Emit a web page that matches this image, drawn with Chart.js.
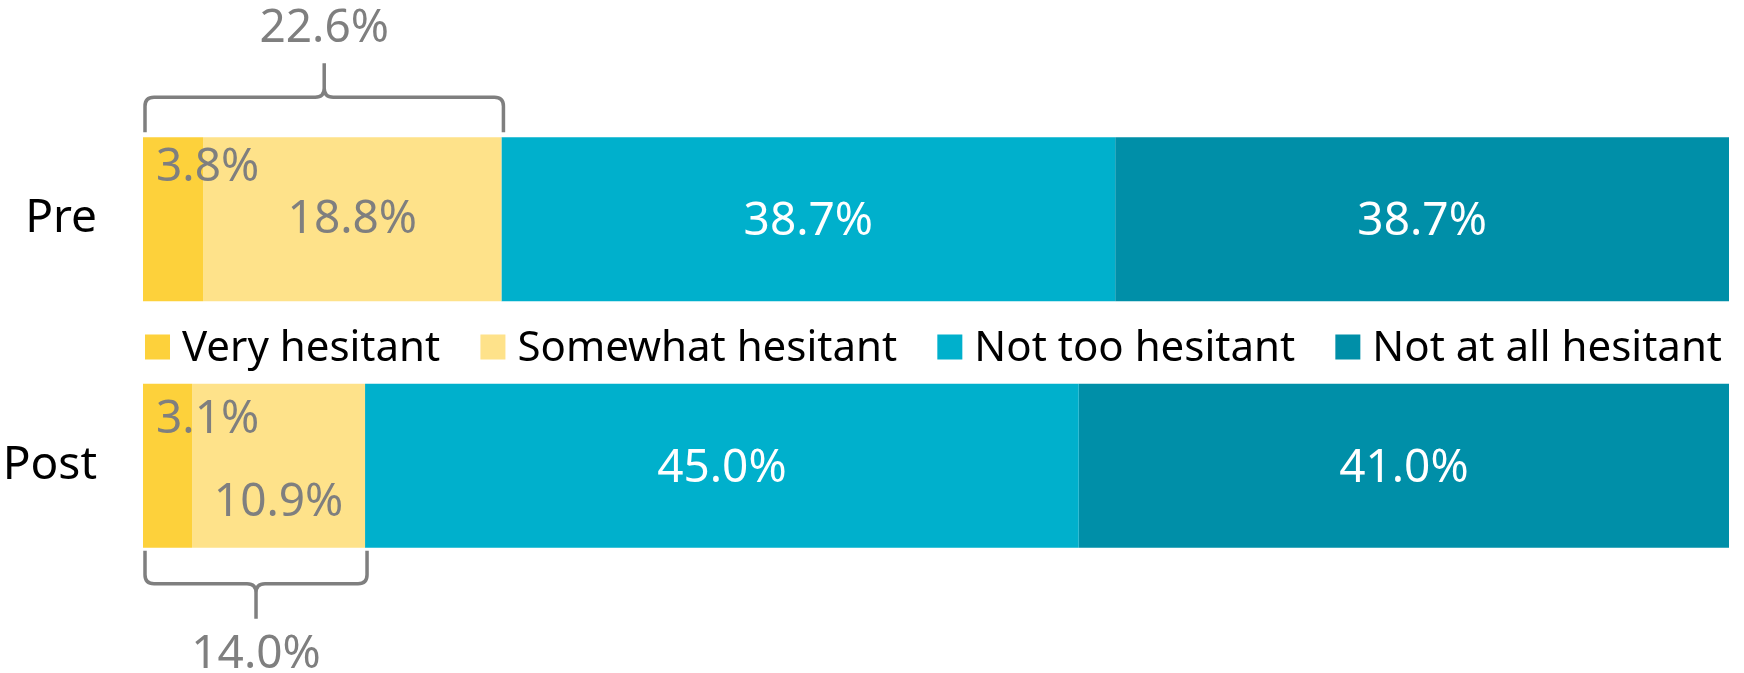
<!DOCTYPE html>
<html>
<head>
<meta charset="utf-8">
<script src="https://cdn.jsdelivr.net/npm/chart.js@4.4.1/dist/chart.umd.min.js"></script>
<style>
  html, body { margin: 0; padding: 0; background: #fff; }
  #wrap { width: 1744px; height: 673px; }
</style>
</head>
<body>
<div id="wrap"><canvas id="chart"></canvas></div>
<script>
// Data
const categories = ['Pre', 'Post'];
const seriesNames = ['Very hesitant', 'Somewhat hesitant', 'Not too hesitant', 'Not at all hesitant'];
const veryHesitant = [3.8, 3.1];
const somewhatHesitant = [18.8, 10.9];
const notTooHesitant = [38.7, 45.0];
const notAtAllHesitant = [38.7, 41.0];
const hesitantTotals = [22.6, 14.0];

const COLORS = ['#fdd13b', '#fee28a', '#00b0cc', '#008fa8'];
const LABEL_COLORS = ['#7f7f7f', '#7f7f7f', '#ffffff', '#ffffff'];
const GREY = '#7f7f7f';
const FONT = "'Noto Sans', sans-serif";

const seriesValues = [veryHesitant, somewhatHesitant, notTooHesitant, notAtAllHesitant];

// where each value label sits inside its segment
function labelSpot(ds, i, bar) {
    const mid = (bar.base + bar.x) / 2;
    if (ds === 0) return { x: bar.base + 13, y: bar.y + (i === 0 ? -51 : -46), align: 'left' };
    if (ds === 1) return { x: mid, y: bar.y + (i === 0 ? 1 : 37), align: 'center' };
    return { x: mid, y: bar.y + 3, align: 'center' };
}

const valueLabels = {
    id: 'valueLabels',
    afterDatasetsDraw(chart) {
        const ctx = chart.ctx;
        ctx.save();
        ctx.font = '46px ' + FONT;
        ctx.textBaseline = 'middle';
        chart.data.datasets.forEach((d, ds) => {
            chart.getDatasetMeta(ds).data.forEach((el, i) => {
                const bar = el.getProps(['x', 'y', 'base', 'height'], true);
                const p = labelSpot(ds, i, bar);
                ctx.fillStyle = LABEL_COLORS[ds];
                ctx.textAlign = p.align;
                ctx.fillText(d.data[i].toFixed(1) + '%', p.x, p.y);
            });
        });
        ctx.restore();
    }
};

function drawBrace(ctx, x0, x1, yEnd, yLine, yPeak, r) {
    const s = Math.sign(yPeak - yLine);
    const xm = (x0 + x1) / 2;
    ctx.beginPath();
    ctx.moveTo(x0, yEnd);
    ctx.lineTo(x0, yLine - s * r);
    ctx.quadraticCurveTo(x0, yLine, x0 + r, yLine);
    ctx.lineTo(xm - r, yLine);
    ctx.quadraticCurveTo(xm, yLine, xm, yLine + s * r);
    ctx.lineTo(xm, yPeak);
    ctx.moveTo(xm, yLine + s * r);
    ctx.quadraticCurveTo(xm, yLine, xm + r, yLine);
    ctx.lineTo(x1 - r, yLine);
    ctx.quadraticCurveTo(x1, yLine, x1, yLine - s * r);
    ctx.lineTo(x1, yEnd);
    ctx.stroke();
}

const braces = {
    id: 'braces',
    afterDatasetsDraw(chart) {
        const ctx = chart.ctx;
        const xs = chart.scales.x;
        ctx.save();
        ctx.strokeStyle = GREY;
        ctx.lineWidth = 3.5;
        ctx.lineJoin = 'round';
        ctx.fillStyle = GREY;
        ctx.font = '46px ' + FONT;
        ctx.textAlign = 'center';
        ctx.textBaseline = 'middle';
        hesitantTotals.forEach((t, i) => {
            const bar = chart.getDatasetMeta(0).data[i].getProps(['y', 'height'], true);
            const x0 = xs.getPixelForValue(0) + 2;
            const x1 = xs.getPixelForValue(t) + 2;
            const xm = (x0 + x1) / 2;
            if (i === 0) {
                const top = bar.y - bar.height / 2;
                drawBrace(ctx, x0, x1, top - 5, top - 40, top - 74, 9);
                ctx.fillText(t.toFixed(1) + '%', xm, top - 108);
            } else {
                const bottom = bar.y + bar.height / 2;
                drawBrace(ctx, x0, x1, bottom + 3, bottom + 36, bottom + 71, 9);
                ctx.fillText(t.toFixed(1) + '%', xm, bottom + 107);
            }
        });
        ctx.restore();
    }
};

// legend sits in the gap between the two bars, spread across the plot width
const gapLegend = {
    id: 'gapLegend',
    afterDraw(chart) {
        const ctx = chart.ctx;
        const area = chart.chartArea;
        const bars = chart.getDatasetMeta(0).data;
        const a = bars[0].getProps(['y', 'height'], true);
        const b = bars[1].getProps(['y', 'height'], true);
        const mid = ((a.y + a.height / 2) + (b.y - b.height / 2)) / 2;
        ctx.save();
        ctx.font = '42px ' + FONT;
        ctx.textAlign = 'left';
        ctx.textBaseline = 'alphabetic';
        const widths = seriesNames.map(n => ctx.measureText(n).width);
        const used = widths.reduce((s, w) => s + w + 37, 0);
        const gap = (area.right - 7 - (area.left + 2) - used) / (seriesNames.length - 1);
        let x = area.left + 2;
        seriesNames.forEach((name, k) => {
            ctx.fillStyle = COLORS[k];
            ctx.fillRect(x, mid - 8, 25, 25);
            x += 37;
            ctx.fillStyle = '#000';
            ctx.fillText(name, x, mid + 18);
            x += widths[k] + gap;
        });
        ctx.restore();
    }
};

new Chart(document.getElementById('chart'), {
    type: 'bar',
    data: {
        labels: categories,
        datasets: seriesNames.map((name, k) => ({
            label: name,
            data: seriesValues[k],
            backgroundColor: COLORS[k],
            borderWidth: 0,
            categoryPercentage: 1,
            barPercentage: 0.665,
        })),
    },
    options: {
        indexAxis: 'y',
        responsive: true,
        maintainAspectRatio: false,
        animation: false,
        layout: { padding: { top: 96, bottom: 84, right: 15, left: 0 } },
        plugins: {
            legend: { display: false },
            tooltip: { enabled: false },
        },
        scales: {
            x: { stacked: true, min: 0, max: 100, display: false },
            y: {
                stacked: true,
                grid: { display: false, drawTicks: false },
                border: { display: false },
                ticks: { color: '#000', padding: 46, font: { family: FONT, size: 46 } },
                afterFit(scale) { scale.width = 143; },
            },
        },
    },
    plugins: [valueLabels, braces, gapLegend],
});
</script>
</body>
</html>
